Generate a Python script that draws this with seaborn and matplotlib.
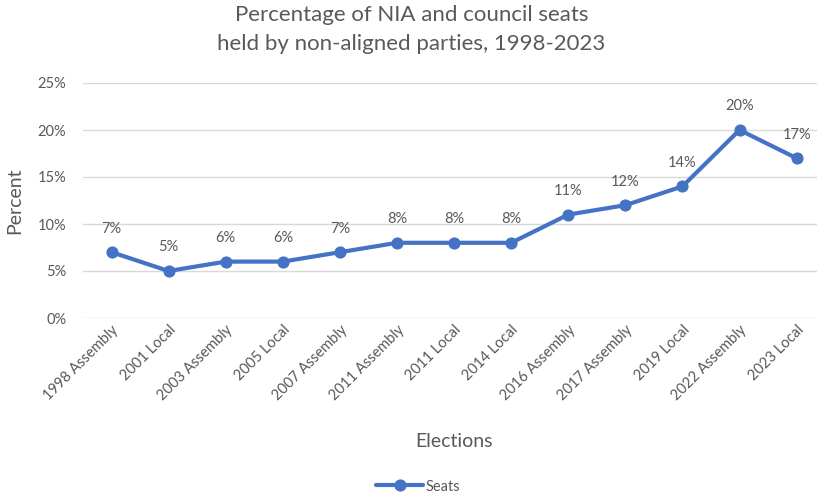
import matplotlib
matplotlib.use("Agg")
import matplotlib.pyplot as plt
import seaborn as sns
import pandas as pd
from matplotlib.ticker import FuncFormatter

elections = ["1998 Assembly", "2001 Local", "2003 Assembly", "2005 Local", "2007 Assembly",
             "2011 Assembly", "2011 Local", "2014 Local", "2016 Assembly", "2017 Assembly",
             "2019 Local", "2022 Assembly", "2023 Local"]
seats = [7, 5, 6, 6, 7, 8, 8, 8, 11, 12, 14, 20, 17]
y_ticks = [0, 5, 10, 15, 20, 25]

df = pd.DataFrame({"Elections": elections, "Seats": seats})

sns.set_theme(style="white")
plt.rcParams["font.family"] = ["Lato", "DejaVu Sans"]
grey = "#595959"
blue = "#4472C4"

fig = plt.figure(figsize=(8.17, 4.99), dpi=100)
ax = fig.add_axes([83 / 817, 181 / 499, (817 - 83) / 817 + 0.01, (318 - 83) / 499])

for t in y_ticks:
    ax.axhline(t, color="#D9D9D9", lw=1, zorder=0)

sns.lineplot(data=df, x="Elections", y="Seats", ax=ax, color=blue, lw=3,
             marker="o", markersize=8, markeredgecolor=blue, label="Seats", sort=False)

for i, v in enumerate(seats):
    ax.annotate(f"{v}%", (i, v), xytext=(0, 12), textcoords="offset points",
                ha="center", va="bottom", fontsize=10.5, color=grey)

ax.set_xlim(-0.5, 12.5)
ax.set_ylim(0, 25)
ax.set_yticks(y_ticks)
ax.yaxis.set_major_formatter(FuncFormatter(lambda v, p: f"{int(v)}%"))
ax.tick_params(axis="both", colors=grey, labelsize=10.5, length=0)
ax.tick_params(axis="y", pad=12)
plt.setp(ax.get_xticklabels(), rotation=45, ha="right", rotation_mode="anchor")
for s in ax.spines.values():
    s.set_visible(False)

ax.set_xlabel("Elections", fontsize=14, color=grey, labelpad=22)
ax.set_ylabel("Percent", fontsize=14, color=grey, labelpad=10)
ax.set_title("Percentage of NIA and council seats\nheld by non-aligned parties, 1998-2023",
             fontsize=16, color=grey, pad=24, linespacing=1.55, x=(408 - 83) / 734)

ax.legend(loc="center", bbox_to_anchor=(0.512, 0.025), bbox_transform=fig.transFigure,
          frameon=False, fontsize=10.5, labelcolor=grey, handlelength=3.2,
          handletextpad=0.2)

fig.savefig("out.png", dpi=100)
